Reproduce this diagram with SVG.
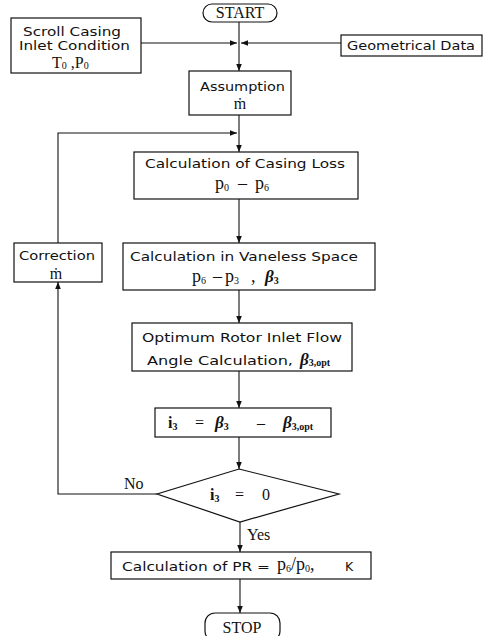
<svg xmlns="http://www.w3.org/2000/svg" width="488" height="636" viewBox="0 0 488 636">
<defs>
<style>
.box{fill:#fff;stroke:#111;stroke-width:1.2}
.ln{fill:none;stroke:#111;stroke-width:1.1}
.s{font-family:"DejaVu Sans",sans-serif;font-size:12.5px;fill:#111}
.r{font-family:"Liberation Serif",serif;font-size:16px;fill:#111}
.p{font-family:"Liberation Serif",serif;font-size:18px;fill:#111}
.sub{font-size:10px}
.b{font-family:"Liberation Serif",serif;font-style:italic;font-weight:bold;font-size:17px;fill:#111}
.bs{font-style:normal;font-weight:bold;font-size:10px}
</style>
<marker id="ar" viewBox="0 0 10 10" refX="10" refY="5" markerWidth="7" markerHeight="7" orient="auto" markerUnits="userSpaceOnUse">
<path d="M0,1 L10,5 L0,9 z" fill="#111"/>
</marker>
</defs>
<rect width="488" height="636" fill="#fff"/>
<g id="connectors">
<line class="ln" x1="239" y1="22" x2="239" y2="71" marker-end="url(#ar)"/>
<line class="ln" x1="141" y1="43" x2="237" y2="43" marker-end="url(#ar)"/>
<line class="ln" x1="341" y1="43" x2="241" y2="43" marker-end="url(#ar)"/>
<line class="ln" x1="239" y1="115" x2="239" y2="152" marker-end="url(#ar)"/>
<polyline class="ln" points="58,243 58,133 237,133" marker-end="url(#ar)"/>
<polyline class="ln" points="157,494 58,494 58,282" marker-end="url(#ar)"/>
<line class="ln" x1="239" y1="199" x2="239" y2="243" marker-end="url(#ar)"/>
<line class="ln" x1="239" y1="290" x2="239" y2="323" marker-end="url(#ar)"/>
<line class="ln" x1="239" y1="371" x2="239" y2="408" marker-end="url(#ar)"/>
<line class="ln" x1="239" y1="437" x2="239" y2="469" marker-end="url(#ar)"/>
<line class="ln" x1="240" y1="522" x2="240" y2="552" marker-end="url(#ar)"/>
<line class="ln" x1="240" y1="579" x2="240" y2="613" marker-end="url(#ar)"/>
<text class="r" x="124" y="489">No</text>
<text class="r" x="247" y="540">Yes</text>
</g>
<g id="start">
<rect class="box" x="203" y="4" width="74" height="18" rx="9"/>
<text class="r" x="240" y="18" text-anchor="middle" font-size="14">START</text>
</g>
<g id="scroll">
<rect class="box" x="11" y="18" width="130" height="55"/>
<text class="s" x="23" y="36" textLength="98" lengthAdjust="spacingAndGlyphs">Scroll Casing</text>
<text class="s" x="19" y="50" textLength="111" lengthAdjust="spacingAndGlyphs">Inlet Condition</text>
<text class="r" x="52" y="68" font-size="15">T<tspan class="sub" dy="1">0</tspan><tspan dy="-1"> ,P</tspan><tspan class="sub" dy="1">0</tspan></text>
</g>
<g id="geom">
<rect class="box" x="341" y="35" width="141" height="21"/>
<text class="s" x="347" y="50" textLength="128" lengthAdjust="spacingAndGlyphs">Geometrical Data</text>
</g>
<g id="assumption">
<rect class="box" x="189" y="71" width="102" height="44"/>
<text class="s" x="200" y="91" textLength="85" lengthAdjust="spacingAndGlyphs">Assumption</text>
<text class="r" x="240" y="109" text-anchor="middle" font-size="18">ṁ</text>
</g>
<g id="casing">
<rect class="box" x="134" y="152" width="224" height="47"/>
<text class="s" x="145" y="168" textLength="200" lengthAdjust="spacingAndGlyphs">Calculation of Casing Loss</text>
<text class="p" x="215" y="189">p<tspan class="sub" dy="2">0</tspan></text>
<text class="p" x="238" y="189">–</text>
<text class="p" x="255" y="189">p<tspan class="sub" dy="2">6</tspan></text>
</g>
<g id="correction">
<rect class="box" x="14" y="243" width="88" height="39"/>
<text class="s" x="19" y="260" textLength="76" lengthAdjust="spacingAndGlyphs">Correction</text>
<text class="r" x="56" y="279" text-anchor="middle" font-size="18">ṁ</text>
</g>
<g id="vaneless">
<rect class="box" x="123" y="243" width="252" height="47"/>
<text class="s" x="130" y="261" textLength="228" lengthAdjust="spacingAndGlyphs">Calculation in Vaneless Space</text>
<text class="p" x="192" y="282">p<tspan class="sub" dy="2">6</tspan></text>
<text class="p" x="213" y="282">–</text>
<text class="p" x="225" y="282">p<tspan class="sub" dy="2">3</tspan></text>
<text class="p" x="251" y="282">,</text>
<text class="b" x="265" y="282">β<tspan class="bs" dy="2">3</tspan></text>
</g>
<g id="optimum">
<rect class="box" x="132" y="323" width="220" height="48"/>
<text class="s" x="142" y="342" textLength="200" lengthAdjust="spacingAndGlyphs">Optimum Rotor Inlet Flow</text>
<text class="s" x="147" y="365" textLength="146" lengthAdjust="spacingAndGlyphs">Angle Calculation,</text>
<text class="b" x="300" y="365">β<tspan class="bs" dy="1">3,opt</tspan></text>
</g>
<g id="incidence">
<rect class="box" x="155" y="408" width="176" height="29"/>
<text class="r" x="168" y="428" font-weight="bold" font-size="17">i<tspan class="bs" dy="2">3</tspan></text>
<text class="r" x="195" y="428" font-size="17">=</text>
<text class="b" x="215" y="428">β<tspan class="bs" dy="2">3</tspan></text>
<text class="r" x="257" y="428" font-size="17">–</text>
<text class="b" x="283" y="428">β<tspan class="bs" dy="2">3,opt</tspan></text>
</g>
<g id="decision">
<polygon class="box" points="239,469 339,494 240,522 157,494"/>
<text class="r" x="210" y="500" font-weight="bold" font-size="17">i<tspan class="bs" dy="2">3</tspan></text>
<text class="r" x="235" y="500" font-size="17">=</text>
<text class="r" x="262" y="500" font-size="17">0</text>
</g>
<g id="pr">
<rect class="box" x="111" y="552" width="260" height="27"/>
<text class="s" x="122" y="571" textLength="148" lengthAdjust="spacingAndGlyphs">Calculation of PR =</text>
<text class="p" x="277" y="570">p<tspan class="sub" dy="2">6</tspan><tspan dy="-2">/p</tspan><tspan class="sub" dy="2">0</tspan><tspan dy="-2">,</tspan></text>
<text class="s" x="345" y="571">K</text>
</g>
<g id="stop">
<rect class="box" x="205" y="613" width="75" height="28" rx="10"/>
<text class="r" x="242" y="633" text-anchor="middle" font-size="14">STOP</text>
</g>
</svg>
